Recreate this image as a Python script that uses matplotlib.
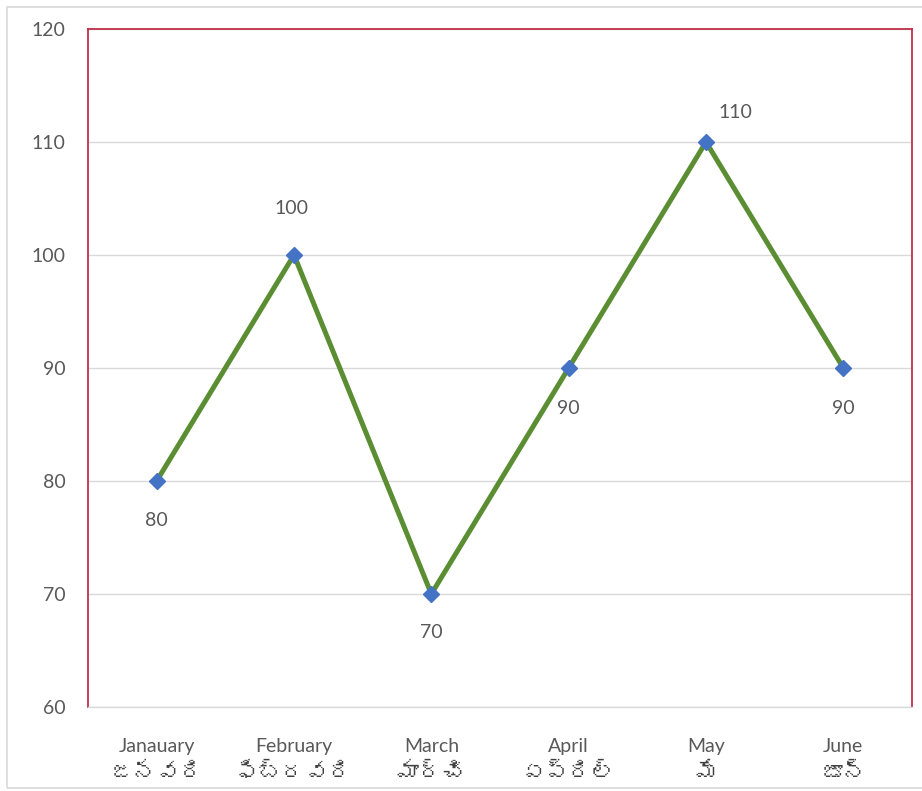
import matplotlib
matplotlib.use("Agg")
import matplotlib.pyplot as plt
from matplotlib import font_manager
from matplotlib.patches import Rectangle
import matplotlib.transforms as mtransforms

months_en = ["Janauary", "February", "March", "April", "May", "June"]
months_te = ["జనవరి", "ఫిబ్రవరి", "మార్చి", "ఏప్రిల్", "మే", "జూన్"]
values = [80, 100, 70, 90, 110, 90]
yticks = [60, 70, 80, 90, 100, 110, 120]

# find a font with Telugu glyphs, if any
telugu_family = None
try:
    from fontTools.ttLib import TTFont
    for f in font_manager.fontManager.ttflist:
        try:
            tt = TTFont(f.fname, fontNumber=0, lazy=True)
            cmap = tt.getBestCmap()
            if cmap and 0x0C1C in cmap:
                telugu_family = f.name
                break
        except Exception:
            pass
except Exception:
    pass

names = {f.name for f in font_manager.fontManager.ttflist}
narrow = "Liberation Sans Narrow" if "Liberation Sans Narrow" in names else (
    "Lato" if "Lato" in names else "DejaVu Sans")
te_fams = ([telugu_family] if telugu_family else []) + ["Noto Sans", "DejaVu Sans"]

txt = "#595959"
fig = plt.figure(figsize=(9.22, 7.91), dpi=100)
fig.patch.set_facecolor("white")
fig.add_artist(Rectangle((7/922, 3/791), 1.0, 781/791, transform=fig.transFigure,
                         fill=False, edgecolor="#d9d9d9", linewidth=1.2))

ax = fig.add_axes([88/922, 84/791, 824/922, 678/791])
x = list(range(len(values)))
ax.plot(x, values, color="#5b8e33", linewidth=3.6, solid_capstyle="round", zorder=3)
ax.plot(x, values, linestyle="none", marker="D", markersize=8,
        markerfacecolor="#4472c4", markeredgecolor="#4472c4", zorder=4)

ax.set_xlim(-0.5, len(values) - 0.5)
ax.set_ylim(60, 120)
ax.set_yticks(yticks)
ax.set_yticklabels([str(t) for t in yticks], fontsize=14, color=txt, family=narrow)
ax.yaxis.grid(True, color="#d9d9d9", linewidth=1)
ax.set_axisbelow(True)
ax.tick_params(axis="y", length=0, pad=16)
ax.tick_params(axis="x", length=0, pad=22)
ax.set_xticks(x)
ax.set_xticklabels(months_en, fontsize=14, color=txt, family=narrow)

for s in ["left", "right", "top"]:
    ax.spines[s].set_color("#c0304a")
    ax.spines[s].set_linewidth(1.3)
ax.spines["bottom"].set_color("#d9d9d9")
ax.spines["bottom"].set_linewidth(1)

trans = mtransforms.blended_transform_factory(ax.transData, ax.transAxes)
for i, t in enumerate(months_te):
    ax.text(i, -0.098, t, transform=trans, ha="center", va="center",
            fontsize=17, color="#404040", family=te_fams)

offsets = [(0, -40), (-3, 46), (0, -39), (0, -41), (29, 30), (0, -41)]
for i, v in enumerate(values):
    dx, dy = offsets[i]
    ax.annotate(str(v), (i, v), xytext=(dx * 0.72, dy * 0.72), textcoords="offset points",
                ha="center", va="center", fontsize=14, color=txt, family=narrow)

fig.savefig("out.png", dpi=100, facecolor="white")
